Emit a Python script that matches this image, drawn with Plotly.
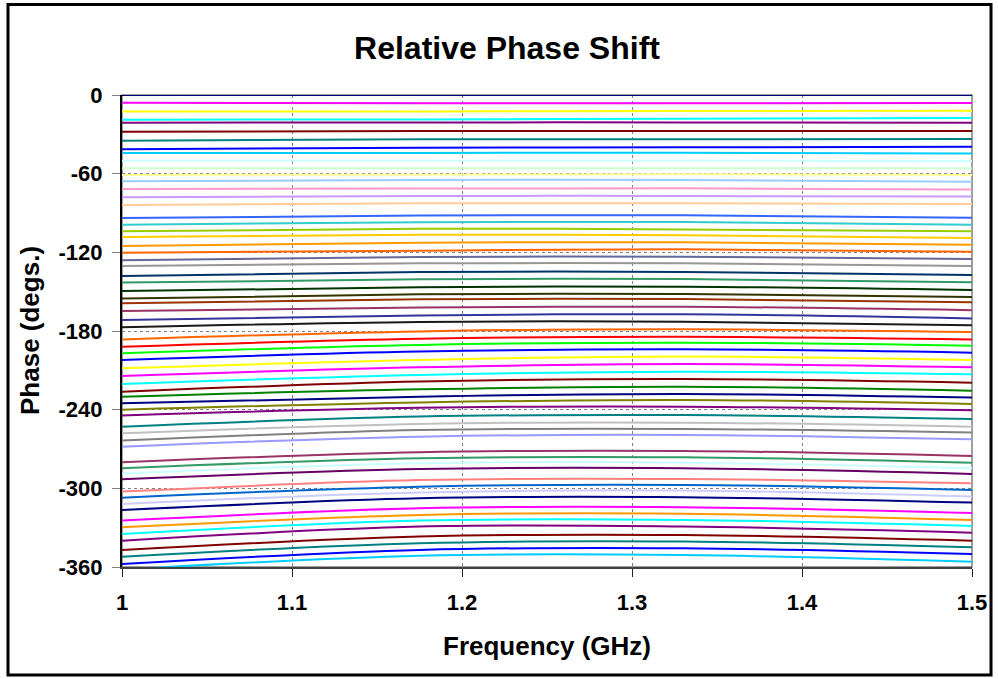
import plotly.graph_objects as go

freq = [1.0, 1.175, 1.33, 1.5]

# Relative phase (degrees) of each state, top to bottom, at each frequency
phase_f1000 = [0, -5.9, -12.5, -18.8, -21.1, -28.0, -34.8, -41.4, -44.2, -50.1,
               -55.9, -61.0, -65.8, -71.7, -78.0, -83.9, -93.8, -98.9, -104.0, -108.3,
               -115.2, -120.3, -126.0, -130.4, -138.0, -143.1, -149.5, -155.3, -158.9, -164.8,
               -171.6, -177.2, -186.4, -192.0, -197.0, -202.1, -208.5, -214.3, -220.4, -226.3,
               -230.1, -235.2, -240.0, -244.4, -253.0, -258.0, -263.6, -268.2, -280.1, -284.7,
               -288.6, -293.1, -302.5, -307.1, -311.9, -316.5, -324.6, -329.7, -334.8, -339.9,
               -347.0, -352.1, -357.7, -362.0]
phase_f1175 = [0, -6.3, -12.5, -18.6, -20.9, -27.5, -33.8, -40.2, -44.2, -50.1,
               -55.9, -60.8, -64.8, -71.4, -77.0, -82.6, -92.0, -97.1, -102.0, -106.5,
               -112.6, -118.7, -123.6, -128.4, -135.0, -140.6, -146.7, -152.0, -155.8, -162.0,
               -168.1, -173.1, -180.3, -185.9, -190.6, -195.7, -202.1, -207.7, -213.5, -218.6,
               -224.5, -230.1, -234.5, -238.6, -245.3, -250.9, -255.5, -260.6, -272.5, -277.1,
               -280.9, -285.3, -293.7, -298.7, -303.2, -307.6, -315.2, -320.3, -324.6, -329.2,
               -336.8, -341.9, -347.0, -351.4]
phase_f1330 = [0, -6.3, -12.2, -18.1, -20.9, -27.5, -33.8, -39.9, -44.0, -50.1,
               -55.9, -60.5, -64.8, -71.2, -77.0, -82.6, -91.8, -96.9, -102.5, -107.0,
               -112.4, -117.7, -123.3, -128.4, -135.0, -140.3, -146.2, -151.8, -155.6, -161.5,
               -167.3, -172.9, -178.7, -184.4, -188.9, -194.0, -199.5, -205.2, -211.0, -216.6,
               -222.5, -228.0, -232.6, -237.7, -244.1, -249.9, -254.7, -259.3, -271.5, -276.3,
               -280.4, -284.7, -292.9, -297.4, -301.7, -306.8, -314.4, -319.4, -324.1, -329.2,
               -335.6, -340.6, -345.7, -350.9]
phase_f1500 = [0, -6.1, -12.0, -17.5, -21.1, -27.5, -33.6, -39.4, -44.7, -50.6,
               -55.9, -61.0, -66.1, -72.0, -77.5, -83.1, -93.6, -98.9, -104.0, -109.1,
               -114.2, -119.5, -125.0, -130.4, -137.3, -142.9, -148.7, -154.1, -158.1, -164.1,
               -170.4, -175.7, -180.8, -186.4, -191.2, -196.5, -202.1, -207.7, -213.0, -219.4,
               -225.5, -230.8, -235.7, -240.5, -247.1, -253.0, -257.5, -262.6, -275.3, -280.4,
               -284.7, -289.0, -296.2, -301.2, -306.3, -310.9, -318.9, -324.1, -328.7, -333.8,
               -339.9, -345.0, -350.1, -356.0]

line_colors = ["#000080", "#FF00FF", "#FFFF00", "#00FFFF", "#800080", "#800000", "#008080", "#0000FF",
               "#00CCFF", "#CCFFFF", "#CCFFCC", "#FFFF99", "#99CCFF", "#FF99CC", "#CC99FF", "#FFCC99",
               "#3366FF", "#33CCCC", "#99CC00", "#FFCC00", "#FF9900", "#FF6600", "#666699", "#969696",
               "#003366", "#339966", "#003300", "#333300", "#993300", "#993366", "#333399", "#1A1A1A",
               "#FF6600", "#FF0000", "#00FF00", "#0000FF", "#FFFF00", "#FF00FF", "#00FFFF", "#800000",
               "#008000", "#000080", "#808000", "#800080", "#008080", "#C0C0C0", "#808080", "#9999FF",
               "#993366", "#339966", "#CCFFFF", "#660066", "#FF8080", "#0066CC", "#CCCCFF", "#000080",
               "#FF00FF", "#FF9900", "#00FFFF", "#800080", "#800000", "#008080", "#0000FF", "#00CCFF"]

y_ticks = [0, -60, -120, -180, -240, -300, -360]
y_tick_text = ["0", "-60", "-120", "-180", "-240", "-300", "-360"]
x_ticks = [1.0, 1.1, 1.2, 1.3, 1.4, 1.5]
x_tick_text = ["1", "1.1", "1.2", "1.3", "1.4", "1.5"]

FONT = "Arial, Liberation Sans, sans-serif"
W, H = 998, 679
L, R, T, B = 122, 26, 95, 112
pw, ph = W - L - R, H - T - B

fig = go.Figure()
for i in range(len(line_colors)):
    fig.add_trace(go.Scatter(
        x=freq,
        y=[phase_f1000[i], phase_f1175[i], phase_f1330[i], phase_f1500[i]],
        mode="lines",
        line=dict(color=line_colors[i], width=2, shape="spline", smoothing=1.0),
        showlegend=False, hoverinfo="skip"))

def px_x(px):
    return (px - L) / pw

def px_y(py):
    return (H - B - py) / ph

fig.update_layout(
    width=W, height=H,
    margin=dict(l=L, r=R, t=T, b=B, autoexpand=False),
    paper_bgcolor="white", plot_bgcolor="white",
    font=dict(family=FONT, color="black"),
    title=dict(text="Relative Phase Shift", x=507 / W, xref="container", xanchor="center",
               y=1 - 48 / H, yref="container", yanchor="middle",
               font=dict(family=FONT, size=32, weight="bold", color="black")),
    xaxis=dict(range=[1.0, 1.5], tickvals=x_ticks, ticktext=x_tick_text,
               showgrid=True, gridcolor="#808080", griddash="dot", gridwidth=1,
               showline=True, linecolor="#404040", linewidth=2,
               ticks="outside", ticklen=8, tickcolor="#202020", tickwidth=1,
               ticklabelstandoff=7,
               tickfont=dict(family=FONT, size=22, weight="bold", color="black"),
               zeroline=False, fixedrange=True),
    yaxis=dict(range=[-360, 0], tickvals=y_ticks, ticktext=y_tick_text,
               showgrid=True, gridcolor="#808080", griddash="dot", gridwidth=1,
               showline=True, linecolor="black", linewidth=2,
               ticks="outside", ticklen=8, tickcolor="#808080", tickwidth=1,
               ticklabelstandoff=5,
               tickfont=dict(family=FONT, size=22, weight="bold", color="black"),
               zeroline=False, fixedrange=True),
    shapes=[
        dict(type="rect", xref="paper", yref="paper", x0=0, x1=1, y0=0, y1=1,
             line=dict(color="#808080", width=1.5), layer="below"),
        dict(type="rect", xref="paper", yref="paper",
             x0=px_x(8), x1=px_x(991), y0=px_y(675), y1=px_y(4.5),
             line=dict(color="black", width=3), layer="above"),
    ],
    annotations=[
        dict(text="Frequency (GHz)", xref="paper", yref="paper", x=0.5, y=px_y(646),
             xanchor="center", yanchor="middle", showarrow=False,
             font=dict(family=FONT, size=26, weight="bold", color="black")),
        dict(text="Phase (degs.)", xref="paper", yref="paper", x=px_x(30), y=0.5,
             xanchor="center", yanchor="middle", showarrow=False, textangle=-90,
             font=dict(family=FONT, size=26, weight="bold", color="black")),
    ],
)

fig.write_html("out.html",
               config={"displayModeBar": False, "staticPlot": True},
               post_script="document.body.style.margin='0';document.body.style.padding='0';"
                           "document.documentElement.style.overflow='hidden';")
